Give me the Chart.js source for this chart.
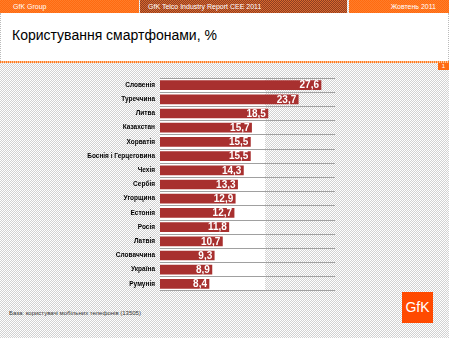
<!DOCTYPE html>
<html><head><meta charset="utf-8">
<script src="https://cdn.jsdelivr.net/npm/chart.js@4"></script>
<style>
html,body{margin:0;padding:0;}
body{width:449px;height:338px;position:relative;overflow:hidden;font-family:"Liberation Sans",Arial,sans-serif;
 background:repeating-conic-gradient(#d2d2d2 0% 25%, #ffffff 0% 50%) 0 0/2px 2px;}
.hdr{position:absolute;top:0;height:13px;color:#fff;font-size:7px;line-height:13px;white-space:nowrap;}
#h1{left:0;width:139px;background:repeating-conic-gradient(#ff6a10 0% 25%, #ff7d2a 0% 50%) 0 0/2px 2px;}
#h2{left:140px;width:207px;background:repeating-conic-gradient(#8e3d22 0% 25%, #d8682e 0% 50%) 0 0/2px 2px;}
#h3{left:349px;width:100px;background:repeating-conic-gradient(#ff6a10 0% 25%, #ff7d2a 0% 50%) 0 0/2px 2px;text-align:right;}
#titlebox{position:absolute;left:0;top:13px;width:447px;height:48px;background:#fff;border-left:1px dotted #bbb;border-right:1px dotted #bbb;}
#title{position:absolute;left:12px;top:27px;font-size:14px;color:#000;white-space:nowrap;}
#oline{position:absolute;left:0;top:61px;width:449px;height:2px;background:repeating-linear-gradient(90deg,#ff7a20 0 1px,#ffc090 1px 2px);}
#pg{position:absolute;left:438px;top:63px;width:11px;height:7px;background:#ff6a10;color:#fff;font-size:6px;line-height:7px;text-align:center;}
#foot{position:absolute;left:9px;top:310px;font-size:6px;color:#333;white-space:nowrap;}
#logo{position:absolute;left:402px;top:292px;width:31px;height:31px;background:#ff4a00;color:#fff;font-size:14px;line-height:31px;text-align:center;}
canvas{position:absolute;left:0;top:0;}
</style></head><body>
<div class="hdr" id="h1"><span style="margin-left:13px">GfK Group</span></div>
<div class="hdr" id="h2"><span style="margin-left:8px">GfK Telco Industry Report CEE 2011</span></div>
<div class="hdr" id="h3"><span style="margin-right:13px">Жовтень 2011</span></div>
<div id="titlebox"></div>
<div id="title">Користування смартфонами, %</div>
<div id="oline"></div>
<div id="pg">1</div>
<div id="foot">База: користувачі мобільних телефонів (13505)</div>
<div id="logo">GfK</div>
<div style="position:absolute;left:0;top:0;width:449px;height:338px;"><canvas id="c" width="449" height="338"></canvas></div>
<script>
const countries = ["Словенія","Туреччина","Литва","Казахстан","Хорватія","Боснія і Герцеговина","Чехія","Сербія","Угорщина","Естонія","Росія","Латвія","Словаччина","Україна","Румунія"];
const smartphoneShare = [27.6,23.7,18.5,15.7,15.5,15.5,14.3,13.3,12.9,12.7,11.8,10.7,9.3,8.9,8.4];
const axisMax = 30;

const bgPlugin = {
  id:'bgPlugin',
  beforeDraw(chart){
    const a = chart.chartArea, ctx = chart.ctx;
    ctx.save();
    ctx.fillStyle = '#ffffff';
    ctx.fillRect(a.left, a.top, 105, a.bottom - a.top);
    ctx.restore();
  }
};
const labelPlugin = {
  id:'labelPlugin',
  afterDatasetsDraw(chart){
    const ctx = chart.ctx;
    const meta = chart.getDatasetMeta(0);
    ctx.save();
    ctx.font = 'bold 10px "Liberation Sans", Arial, sans-serif';
    ctx.fillStyle = '#ffffff';
    ctx.textAlign = 'right';
    ctx.textBaseline = 'middle';
    meta.data.forEach((bar, i) => {
      const v = chart.data.datasets[0].data[i];
      ctx.fillText(v.toFixed(1).replace('.', ','), bar.x - 2, bar.y + 0.5);
    });
    ctx.restore();
  }
};

new Chart(document.getElementById('c'), {
  type:'bar',
  data:{labels:countries, datasets:[{data:smartphoneShare, backgroundColor:'#a8302f', borderWidth:0, barThickness:9}]},
  options:{
    indexAxis:'y',
    responsive:false,
    animation:false,
    devicePixelRatio:1,
    layout:{padding:{left:0,right:114,top:78,bottom:47}},
    plugins:{legend:{display:false},tooltip:{enabled:false}},
    scales:{
      x:{display:false,min:0,max:axisMax},
      y:{
        afterFit(s){s.width=160;},
        offset:true,
        border:{display:false},
        grid:{color:'#a0a0a0',lineWidth:1,drawTicks:false,offset:true},
        ticks:{color:'#000',padding:5,font:{family:'"Liberation Sans", Arial, sans-serif',size:6.5,weight:'bold'}}
      }
    }
  },
  plugins:[bgPlugin,labelPlugin]
});
</script>
</body></html>
